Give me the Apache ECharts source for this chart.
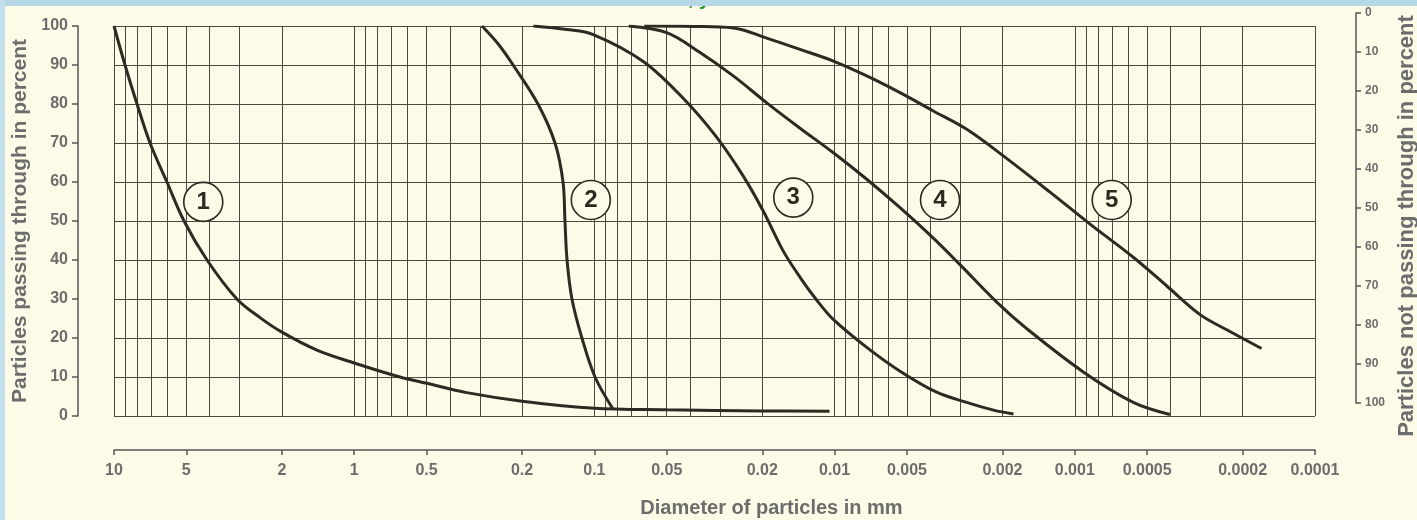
<!DOCTYPE html>
<html><head><meta charset="utf-8">
<script src="https://cdn.jsdelivr.net/npm/echarts@6/dist/echarts.min.js"></script>
<style>html,body{margin:0;padding:0;background:#fdfbe8}#chart{width:1417px;height:520px}</style>
</head><body><div id="chart"></div>
<script>
// ---- data ----
const curveNames = ['1', '2', '3', '4', '5'];
const curve1 = [[10,100],[9.0,90],[8.02,80],[7.08,70],[6.02,60],[5.11,50],[4.1,40],[3.08,30],[2.45,25.1],[2,21.5],[1.43,16.9],[1,13.6],[0.645,10],[0.5,8.4],[0.34,6],[0.2,3.8],[0.1,2],[0.05,1.6],[0.02,1.3],[0.0105,1.2]];
const curve2 = [[0.2938,100],[0.25,95.2],[0.218,90],[0.1718,80],[0.1459,70],[0.1351,60],[0.1326,50],[0.130,40],[0.124,30],[0.1127,20],[0.0994,10],[0.0837,1.8]];
const curve3 = [[0.1797,100],[0.13,99.1],[0.1011,97.8],[0.0626,90.9],[0.0426,81.4],[0.031,71.5],[0.024,61.5],[0.0198,52.5],[0.0164,42.4],[0.0139,35.5],[0.0119,29.8],[0.0101,24.7],[0.00735,17.6],[0.00534,11.5],[0.00376,6.1],[0.00282,3.5],[0.00218,1.5],[0.0018,0.5]];
const curve4 = [[0.072,100],[0.05,98.3],[0.03633,93.2],[0.02641,87.2],[0.01917,80.3],[0.01393,73.8],[0.01012,67.5],[0.007348,60.7],[0.00534,53.4],[0.003882,45.6],[0.003006,38.8],[0.002114,29.2],[0.001586,22.4],[0.000922,11.3],[0.000571,3.5],[0.000402,0.4]];
const curve5 = [[0.062,100],[0.0389,99.9],[0.02641,99.5],[0.01917,96.9],[0.01393,94.0],[0.01012,91.0],[0.007348,87.2],[0.00534,82.9],[0.003882,78.2],[0.002818,73.5],[0.001985,66.7],[0.001268,57.4],[0.000864,49.2],[0.000571,40.7],[0.000415,33.4],[0.000301,26.0],[0.000233,22.1],[0.000167,17.3]];
const labelX = [4.25, 0.1035, 0.01486, 0.00364, 0.000702];
const labelY = [54.9, 55.4, 56.0, 55.4, 55.4];
const xTickValues = [10, 5, 2, 1, 0.5, 0.2, 0.1, 0.05, 0.02, 0.01, 0.005, 0.002, 0.001, 0.0005, 0.0002, 0.0001];
const yTickMin = 0, yTickMax = 100, yTickStep = 10;

// grid line positions of the log paper (1..9 in each decade)
const gridLineValues = [];
for (let e = -4; e <= 0; e++) for (let m = 1; m <= 9; m++) gridLineValues.push(+(m * Math.pow(10, e)).toPrecision(6));
gridLineValues.push(10);

const curves = [curve1, curve2, curve3, curve4, curve5];
const gridColor = '#4b483f';
const textGray = '#6c6c6c';
const curveColor = '#2d2a22';
const fmt = v => String(+(+v).toPrecision(4));
const font = 'Liberation Sans';

const chart = echarts.init(document.getElementById('chart'));
const option = {
  backgroundColor: '#fdfbe8',
  animation: false,
  title: { text: ', y', left: 683, top: -16, textStyle: { color: '#1f9a2a', fontSize: 20, fontWeight: 'bold', fontFamily: font } },
  graphic: [
    { type: 'rect', left: 0, top: 0, shape: { width: 1417, height: 6 }, style: { fill: '#b6d7e6' }, z: 100 },
    { type: 'rect', left: 0, top: 0, shape: { width: 5, height: 520 }, style: { fill: '#c3dfec' }, z: 100 }
  ],
  grid: [
    { left: 114, right: 102, top: 26, bottom: 104, containLabel: false, outerBoundsMode: 'none' },
    { left: 114, right: 102, top: 13, bottom: 117, containLabel: false, outerBoundsMode: 'none' }
  ],
  xAxis: [
    { type: 'log', logBase: 10, min: 0.0001, max: 10, inverse: true, gridIndex: 0, position: 'bottom',
      axisLine: { show: false, onZero: false }, axisTick: { show: false, customValues: gridLineValues },
      axisLabel: { show: false }, splitLine: { show: true, lineStyle: { color: gridColor, width: 1 } } },
    { type: 'log', logBase: 10, min: 0.0001, max: 10, inverse: true, gridIndex: 0, position: 'bottom', offset: 34,
      axisLine: { show: true, onZero: false, lineStyle: { color: '#555', width: 1.5 } },
      axisTick: { show: true, length: 5, customValues: xTickValues, lineStyle: { color: '#555', width: 1.5 } },
      axisLabel: { customValues: xTickValues, formatter: fmt, margin: 13, color: textGray, fontSize: 16, fontWeight: 'bold', fontFamily: font },
      splitLine: { show: false },
      name: 'Diameter of particles in mm', nameLocation: 'middle', nameGap: 48,
      nameTextStyle: { color: textGray, fontSize: 20, fontWeight: 'bold', fontFamily: font, padding: [0, 0, 0, 114] } },
    { type: 'value', gridIndex: 1, show: false, min: 0, max: 1, axisLine: { onZero: false } }
  ],
  yAxis: [
    { type: 'value', gridIndex: 0, min: yTickMin, max: yTickMax, interval: yTickStep, position: 'left', offset: 36,
      axisLine: { show: true, onZero: false, lineStyle: { color: '#555', width: 1.5 } },
      axisTick: { show: true, length: 6, lineStyle: { color: '#555', width: 1.5 } },
      axisLabel: { margin: 10, color: textGray, fontSize: 16, fontWeight: 'bold', fontFamily: font },
      splitLine: { show: true, lineStyle: { color: gridColor, width: 1 } },
      name: 'Particles passing through in percent', nameLocation: 'middle', nameRotate: 90, nameGap: 46,
      nameTextStyle: { color: textGray, fontSize: 21, fontWeight: 'bold', fontFamily: font } },
    { type: 'value', gridIndex: 1, min: yTickMin, max: yTickMax, interval: yTickStep, inverse: true, position: 'right', offset: 41,
      axisLine: { show: true, onZero: false, lineStyle: { color: '#555', width: 1.5 } },
      axisTick: { show: true, length: 5, lineStyle: { color: '#555', width: 1.5 } },
      axisLabel: { margin: 9, color: textGray, fontSize: 12, fontWeight: 'bold', fontFamily: font },
      splitLine: { show: false },
      name: 'Particles not passing through in percent', nameLocation: 'middle', nameRotate: 90, nameGap: 36,
      nameTextStyle: { color: textGray, fontSize: 22, fontWeight: 'bold', fontFamily: font, padding: [0, 36, 0, 0] } }
  ],
  series: curves.map((c, i) => ({
    type: 'line', name: 'Curve ' + curveNames[i], xAxisIndex: 0, yAxisIndex: 0,
    data: c, symbol: 'none', smooth: 0.35, silent: true,
    lineStyle: { color: curveColor, width: 3 }, z: 5
  })).concat([{
    type: 'scatter', xAxisIndex: 0, yAxisIndex: 0, silent: true, z: 6,
    data: curveNames.map((n, i) => ({ name: n, value: [labelX[i], labelY[i]] })),
    symbol: 'circle', symbolSize: 39,
    itemStyle: { color: '#fdfbe8', borderColor: '#2d2a22', borderWidth: 1.6, opacity: 1 },
    label: { show: true, position: 'inside', formatter: p => p.name, color: '#2d2a22', fontSize: 24, fontWeight: 'bold', fontFamily: font }
  }])
};
chart.setOption(option);
</script></body></html>
